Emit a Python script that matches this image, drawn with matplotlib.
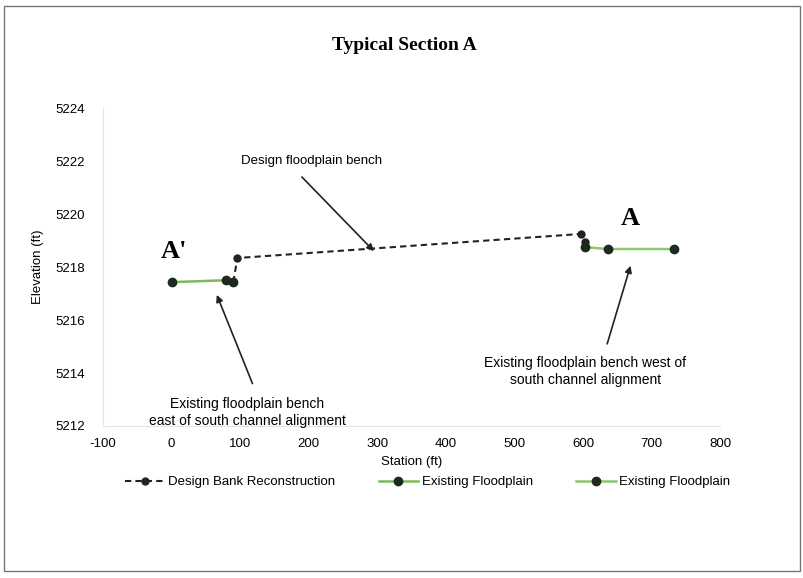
import numpy as np
import matplotlib.pyplot as plt
from matplotlib.patches import Rectangle

plt.rcParams["axes.unicode_minus"] = False

# data
sta_exist_L = [0, 79, 90]
elev_exist_L = [5217.43, 5217.5, 5217.43]

sta_design = [90, 96, 597, 603, 603]
elev_design = [5217.43, 5218.34, 5219.25, 5218.94, 5218.75]

sta_exist_R = [603, 636, 733]
elev_exist_R = [5218.75, 5218.68, 5218.68]

xticks = np.arange(-100, 801, 100)
yticks = np.arange(5212, 5225, 2)

sans = "Liberation Sans"

fig = plt.figure(figsize=(8.04, 5.78), dpi=100)
fig.patches.append(Rectangle((0.005, 0.012), 0.99, 0.978, transform=fig.transFigure,
                             fill=False, ec="#777777", lw=1.0))

ax = fig.add_axes([0.128, 0.263, 0.768, 0.55])
ax.plot(sta_design, elev_design, "--", color="#222222", lw=1.5, marker="o", ms=5,
        mfc="#222222", mec="#222222", dashes=(3, 2), label="Design Bank Reconstruction")
ax.plot(sta_exist_L, elev_exist_L, "-", color="#7cbb5c", lw=1.8, marker="o", ms=6,
        mfc="#1e2a1e", mec="#1e2a1e", label="Existing Floodplain")
ax.plot(sta_exist_R, elev_exist_R, "-", color="#8cc870", lw=1.8, marker="o", ms=6,
        mfc="#1e2a1e", mec="#1e2a1e", label="Existing Floodplain")

ax.set_xlim(-100, 800)
ax.set_ylim(5212, 5224)
ax.set_xticks(xticks)
ax.set_yticks(yticks)
ax.tick_params(length=0, labelsize=9.5)
ax.tick_params(axis="y", pad=13)
ax.tick_params(axis="x", pad=9)
for lab in ax.get_xticklabels() + ax.get_yticklabels():
    lab.set_family(sans)
for s in ["top", "right"]:
    ax.spines[s].set_visible(False)
for s in ["left", "bottom"]:
    ax.spines[s].set_color("#e4e4e4")
ax.set_xlabel("Station (ft)", family=sans, fontsize=9.5, labelpad=4)
ax.set_ylabel("Elevation (ft)", family=sans, fontsize=9.5, labelpad=8)

fig.text(0.503, 0.922, "Typical Section A", ha="center", va="center",
         family="Liberation Serif", fontweight="bold", fontsize=14)

# section labels
ax.text(3, 5218.6, "A'", family="Liberation Serif", fontweight="bold", fontsize=19,
        ha="center", va="center")
ax.text(669, 5219.85, "A", family="Liberation Serif", fontweight="bold", fontsize=19,
        ha="center", va="center")

# callouts
arrow = dict(arrowstyle="-|>", color="#222222", lw=1.2, shrinkA=0, shrinkB=0)
ax.text(204, 5222.0, "Design floodplain bench", ha="center", va="center",
        fontsize=9.5, family=sans)
ax.annotate("", xy=(295, 5218.6), xytext=(190, 5221.4), arrowprops=arrow)

ax.text(110, 5212.5, "Existing floodplain bench\neast of south channel alignment",
        ha="center", va="center", fontsize=10, family=sans, linespacing=1.3)
ax.annotate("", xy=(66, 5216.95), xytext=(118, 5213.6), arrowprops=arrow)

ax.text(603, 5214.05, "Existing floodplain bench west of\nsouth channel alignment",
        ha="center", va="center", fontsize=10, family=sans, linespacing=1.3)
ax.annotate("", xy=(669, 5218.05), xytext=(635, 5215.1), arrowprops=arrow)

leg = ax.legend(loc="upper center", bbox_to_anchor=(0.526, -0.12), ncol=3,
                frameon=False, handlelength=3.0, handletextpad=0.25, columnspacing=3.3,
                prop={"family": sans, "size": 9.5})

fig.savefig("out.png", dpi=100)
